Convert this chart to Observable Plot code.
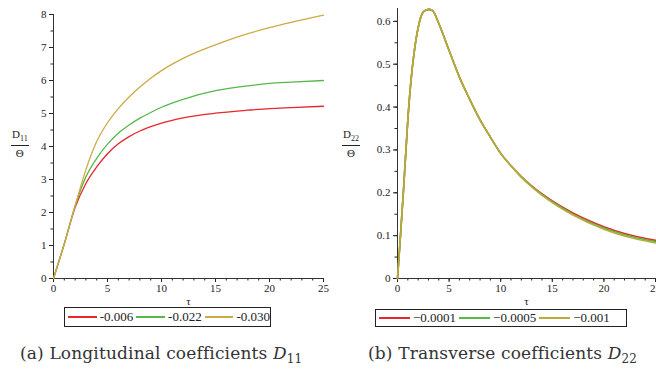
<!DOCTYPE html>
<html><head><meta charset="utf-8">
<script src="https://cdn.jsdelivr.net/npm/d3@7"></script>
<script src="https://cdn.jsdelivr.net/npm/@observablehq/plot@0.6"></script>
<style>
body{margin:0;background:#fff;}
#wrap{position:relative;width:656px;height:372px;overflow:hidden;font-family:"Liberation Serif","Times New Roman","DejaVu Serif",serif;color:#222;background:#fff}
.panel{position:absolute;top:0}
.legend{position:absolute;border:1px solid #222;display:flex;align-items:center;box-sizing:border-box;font-size:13px;white-space:nowrap}
.legend .sw{display:inline-block;width:31px;height:2px;margin:0 3px 0 3px}
.frac{position:absolute;text-align:center;font-size:11px;line-height:1;color:#222}
.frac .num{border-bottom:1px solid #222;padding:0 1px 2px 1px}
.frac .den{padding-top:2px}
.cap{position:absolute;font-family:"DejaVu Serif",serif;font-size:17px;letter-spacing:0.15px;white-space:nowrap;color:#333}
</style></head><body><div id="wrap"></div>
<script>
// ---- Panel (a): longitudinal coefficients D11/Θ vs τ ----
const tauA = [0, 1, 2, 3, 4, 5, 6, 7, 8, 9, 10, 12, 15, 18, 20, 22, 25];
const d11_006 = [0, 1.05, 2.15, 2.88, 3.38, 3.78, 4.08, 4.3, 4.47, 4.6, 4.71, 4.87, 5.01, 5.1, 5.15, 5.18, 5.22];
const d11_022 = [0, 1.05, 2.2, 3.08, 3.64, 4.07, 4.4, 4.65, 4.86, 5.03, 5.19, 5.43, 5.69, 5.84, 5.91, 5.95, 6.0];
const d11_030 = [0, 1.05, 2.2, 3.3, 4.15, 4.72, 5.15, 5.5, 5.8, 6.07, 6.3, 6.67, 7.08, 7.42, 7.6, 7.76, 7.98];
const legendA = ["-0.006", "-0.022", "-0.030"];
const colorsA = ["#e8262d", "#55b94a", "#cdaa45"];

// ---- Panel (b): transverse coefficients D22/Θ vs τ ----
const tauB = [0, 0.3, 0.6, 1, 1.3, 1.6, 2, 2.5, 3, 3.4, 4, 5, 6, 7, 8, 9, 10, 11, 12, 13, 15, 17, 20, 22, 25];
const d22_0001 = [0, 0.104, 0.213, 0.37, 0.46, 0.525, 0.585, 0.622, 0.628, 0.625, 0.595, 0.532, 0.47, 0.418, 0.37, 0.33, 0.292, 0.263, 0.238, 0.216, 0.181, 0.153, 0.121, 0.105, 0.089];
const d22_0005 = [0, 0.104, 0.213, 0.37, 0.46, 0.525, 0.585, 0.622, 0.628, 0.625, 0.595, 0.532, 0.47, 0.418, 0.37, 0.33, 0.292, 0.263, 0.237, 0.215, 0.179, 0.150, 0.118, 0.102, 0.086];
const d22_001  = [0, 0.104, 0.213, 0.37, 0.46, 0.525, 0.585, 0.622, 0.628, 0.625, 0.595, 0.532, 0.47, 0.418, 0.37, 0.33, 0.292, 0.263, 0.236, 0.214, 0.177, 0.148, 0.115, 0.099, 0.083];
const legendB = ["\u22120.0001", "\u22120.0005", "\u22120.001"];
const colorsB = ["#e8262d", "#55b94a", "#b9ab35"];

const xMajor = [0, 5, 10, 15, 20, 25];
const yMajorA = [0, 1, 2, 3, 4, 5, 6, 7, 8];
const yMajorB = [0, 0.1, 0.2, 0.3, 0.4, 0.5, 0.6];

const wrap = document.getElementById("wrap");

function rows(tau, seriesList, names) {
  const out = [];
  seriesList.forEach((s, i) => s.forEach((v, j) => out.push({tau: tau[j], v, k: names[i]})));
  return out;
}

function panel(o) {
  const data = rows(o.tau, o.series, o.names);
  const xMinor = d3.range(0, 25.001, 1);
  const yMinor = d3.range(0, o.yDomain[1] + 1e-9, o.yMinorStep);
  const svg = Plot.plot({
    width: o.width, height: 312,
    marginLeft: o.ml, marginRight: o.mr, marginTop: o.mt, marginBottom: 34,
    style: {fontFamily: "Liberation Serif, Times New Roman, serif", fontSize: "11px", color: "#222", background: "transparent", overflow: "visible"},
    x: {domain: [0, 25]},
    y: {domain: o.yDomain},
    color: {domain: o.names, range: o.colors},
    marks: [
      Plot.axisX({ticks: xMinor, tickSize: 2.5, tickFormat: () => "", label: null}),
      Plot.axisX({ticks: xMajor, tickSize: 4, tickPadding: 2, tickFormat: d => String(d), label: "τ", labelAnchor: "center", labelArrow: "none", labelOffset: 26}),
      Plot.axisY({ticks: yMinor, tickSize: 2.5, tickFormat: () => "", label: null}),
      Plot.axisY({ticks: o.yMajor, tickSize: 4, tickPadding: 3, tickFormat: d => String(d), label: null}),
      Plot.frame({anchor: "left", stroke: "#333"}),
      Plot.frame({anchor: "bottom", stroke: "#333"}),
      Plot.line(data, {x: "tau", y: "v", z: "k", stroke: "k", strokeWidth: o.sw, curve: "monotone-x"})
    ]
  });
  const div = document.createElement("div");
  div.className = "panel";
  div.style.left = o.left + "px";
  div.appendChild(svg);
  wrap.appendChild(div);

  // legend
  const lg = document.createElement("div");
  lg.className = "legend";
  Object.assign(lg.style, {left: o.lg[0] + "px", top: o.lg[1] + "px", width: o.lg[2] + "px", height: o.lg[3] + "px"});
  o.names.forEach((n, i) => {
    const sw = document.createElement("span");
    sw.className = "sw"; sw.style.background = o.colors[i];
    const t = document.createElement("span"); t.textContent = n;
    lg.appendChild(sw); lg.appendChild(t);
  });
  wrap.appendChild(lg);

  // y label as fraction
  const fr = document.createElement("div");
  fr.className = "frac";
  Object.assign(fr.style, {left: o.fr[0] + "px", top: o.fr[1] + "px"});
  fr.innerHTML = `<div class="num">D<sub style="font-size:8px">${o.sub}</sub></div><div class="den">Θ</div>`;
  wrap.appendChild(fr);

  // caption
  const cap = document.createElement("div");
  cap.className = "cap";
  Object.assign(cap.style, {left: o.cap[0] + "px", top: o.cap[1] + "px"});
  cap.innerHTML = o.capHtml;
  wrap.appendChild(cap);
}

panel({
  tau: tauA, series: [d11_006, d11_022, d11_030], names: legendA, colors: colorsA,
  yDomain: [0, 8], yMajor: yMajorA, yMinorStep: 0.5, sw: 1.3,
  width: 335, left: 0, ml: 53, mr: 12, mt: 14,
  lg: [64, 307, 207, 20], fr: [11, 129], sub: "11",
  cap: [20, 343], capHtml: '(a) Longitudinal coefficients <i>D</i><sub style="font-size:12px">11</sub>'
});
panel({
  tau: tauB, series: [d22_0001, d22_0005, d22_001], names: legendB, colors: colorsB,
  yDomain: [0, 0.63], yMajor: yMajorB, yMinorStep: 0.05, sw: 1.6,
  width: 316, left: 340, ml: 57, mr: 1, mt: 8,
  lg: [375, 309, 252, 18], fr: [342, 129], sub: "22",
  cap: [368, 343], capHtml: '(b) Transverse coefficients <i>D</i><sub style="font-size:12px">22</sub>'
});
</script></body></html>
